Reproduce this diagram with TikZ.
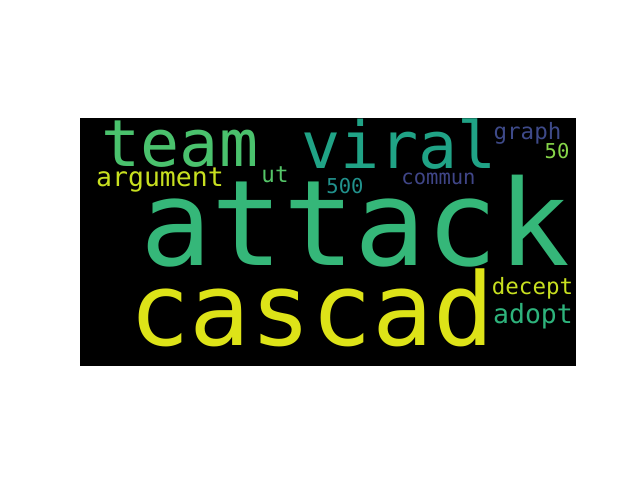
\documentclass[tikz,border=0pt]{standalone}
\usepackage{fontspec}
\usepackage{tikz}
\newfontfamily\cloudfont{DejaVu Sans Mono}
\newcommand{\wf}[1]{\cloudfont\fontsize{#1}{#1}\selectfont}
\definecolor{vTeam}{RGB}{74,194,109}
\definecolor{vViral}{RGB}{32,163,134}
\definecolor{vAttack}{RGB}{53,183,121}
\definecolor{vCascad}{RGB}{221,227,24}
\definecolor{vArgument}{RGB}{200,224,32}
\definecolor{vUt}{RGB}{84,197,104}
\definecolor{vFivehundred}{RGB}{33,145,140}
\definecolor{vCommun}{RGB}{64,70,136}
\definecolor{vGraph}{RGB}{62,74,137}
\definecolor{vFifty}{RGB}{134,213,73}
\definecolor{vDecept}{RGB}{200,224,32}
\definecolor{vAdopt}{RGB}{46,179,124}

\begin{document}
\begin{tikzpicture}[x=1pt, y=-1pt,
    word/.style={anchor=base, inner sep=0pt, text depth=0pt, text height=0.74em},
    low/.style={text height=0.55em},
    tail/.style={text depth=0.2em}]
      \useasboundingbox (0,0) rectangle (640,480);
      \fill[black] (80,118) rectangle (576,366);
      %big words
      \node[word, text=vAttack, font=\wf{119}] (attack) at (355,265) {attack};
      \node[word, text=vCascad, font=\wf{101}] (cascad) at (311.5,345) {cascad};
      \node[word, text=vTeam, font=\wf{65}] (team) at (180,166) {team};
      \node[word, text=vViral, font=\wf{65}] (viral) at (399,168) {viral};
      %small words
      \node[word, tail, low, text=vArgument, font=\wf{26.5}] (argument) at (160,186) {argument};
      \node[word, text height=0.65em, text=vUt, font=\wf{22.5}] (ut) at (275,182) {ut};
      \node[word, text=vFivehundred, font=\wf{20.5}] (fivehundred) at (345,193) {500};
      \node[word, low, text=vCommun, font=\wf{20.5}] (commun) at (438.5,184) {commun};
      \node[word, tail, text=vGraph, font=\wf{22.5}] (graph) at (527.5,139) {graph};
      \node[word, text=vFifty, font=\wf{20.5}] (fifty) at (557,158) {50};
      \node[word, tail, text=vDecept, font=\wf{22.5}] (decept) at (532.5,294) {decept};
      \node[word, tail, text=vAdopt, font=\wf{26.5}] (adopt) at (533,323) {adopt};
    \end{tikzpicture}
\end{document}
